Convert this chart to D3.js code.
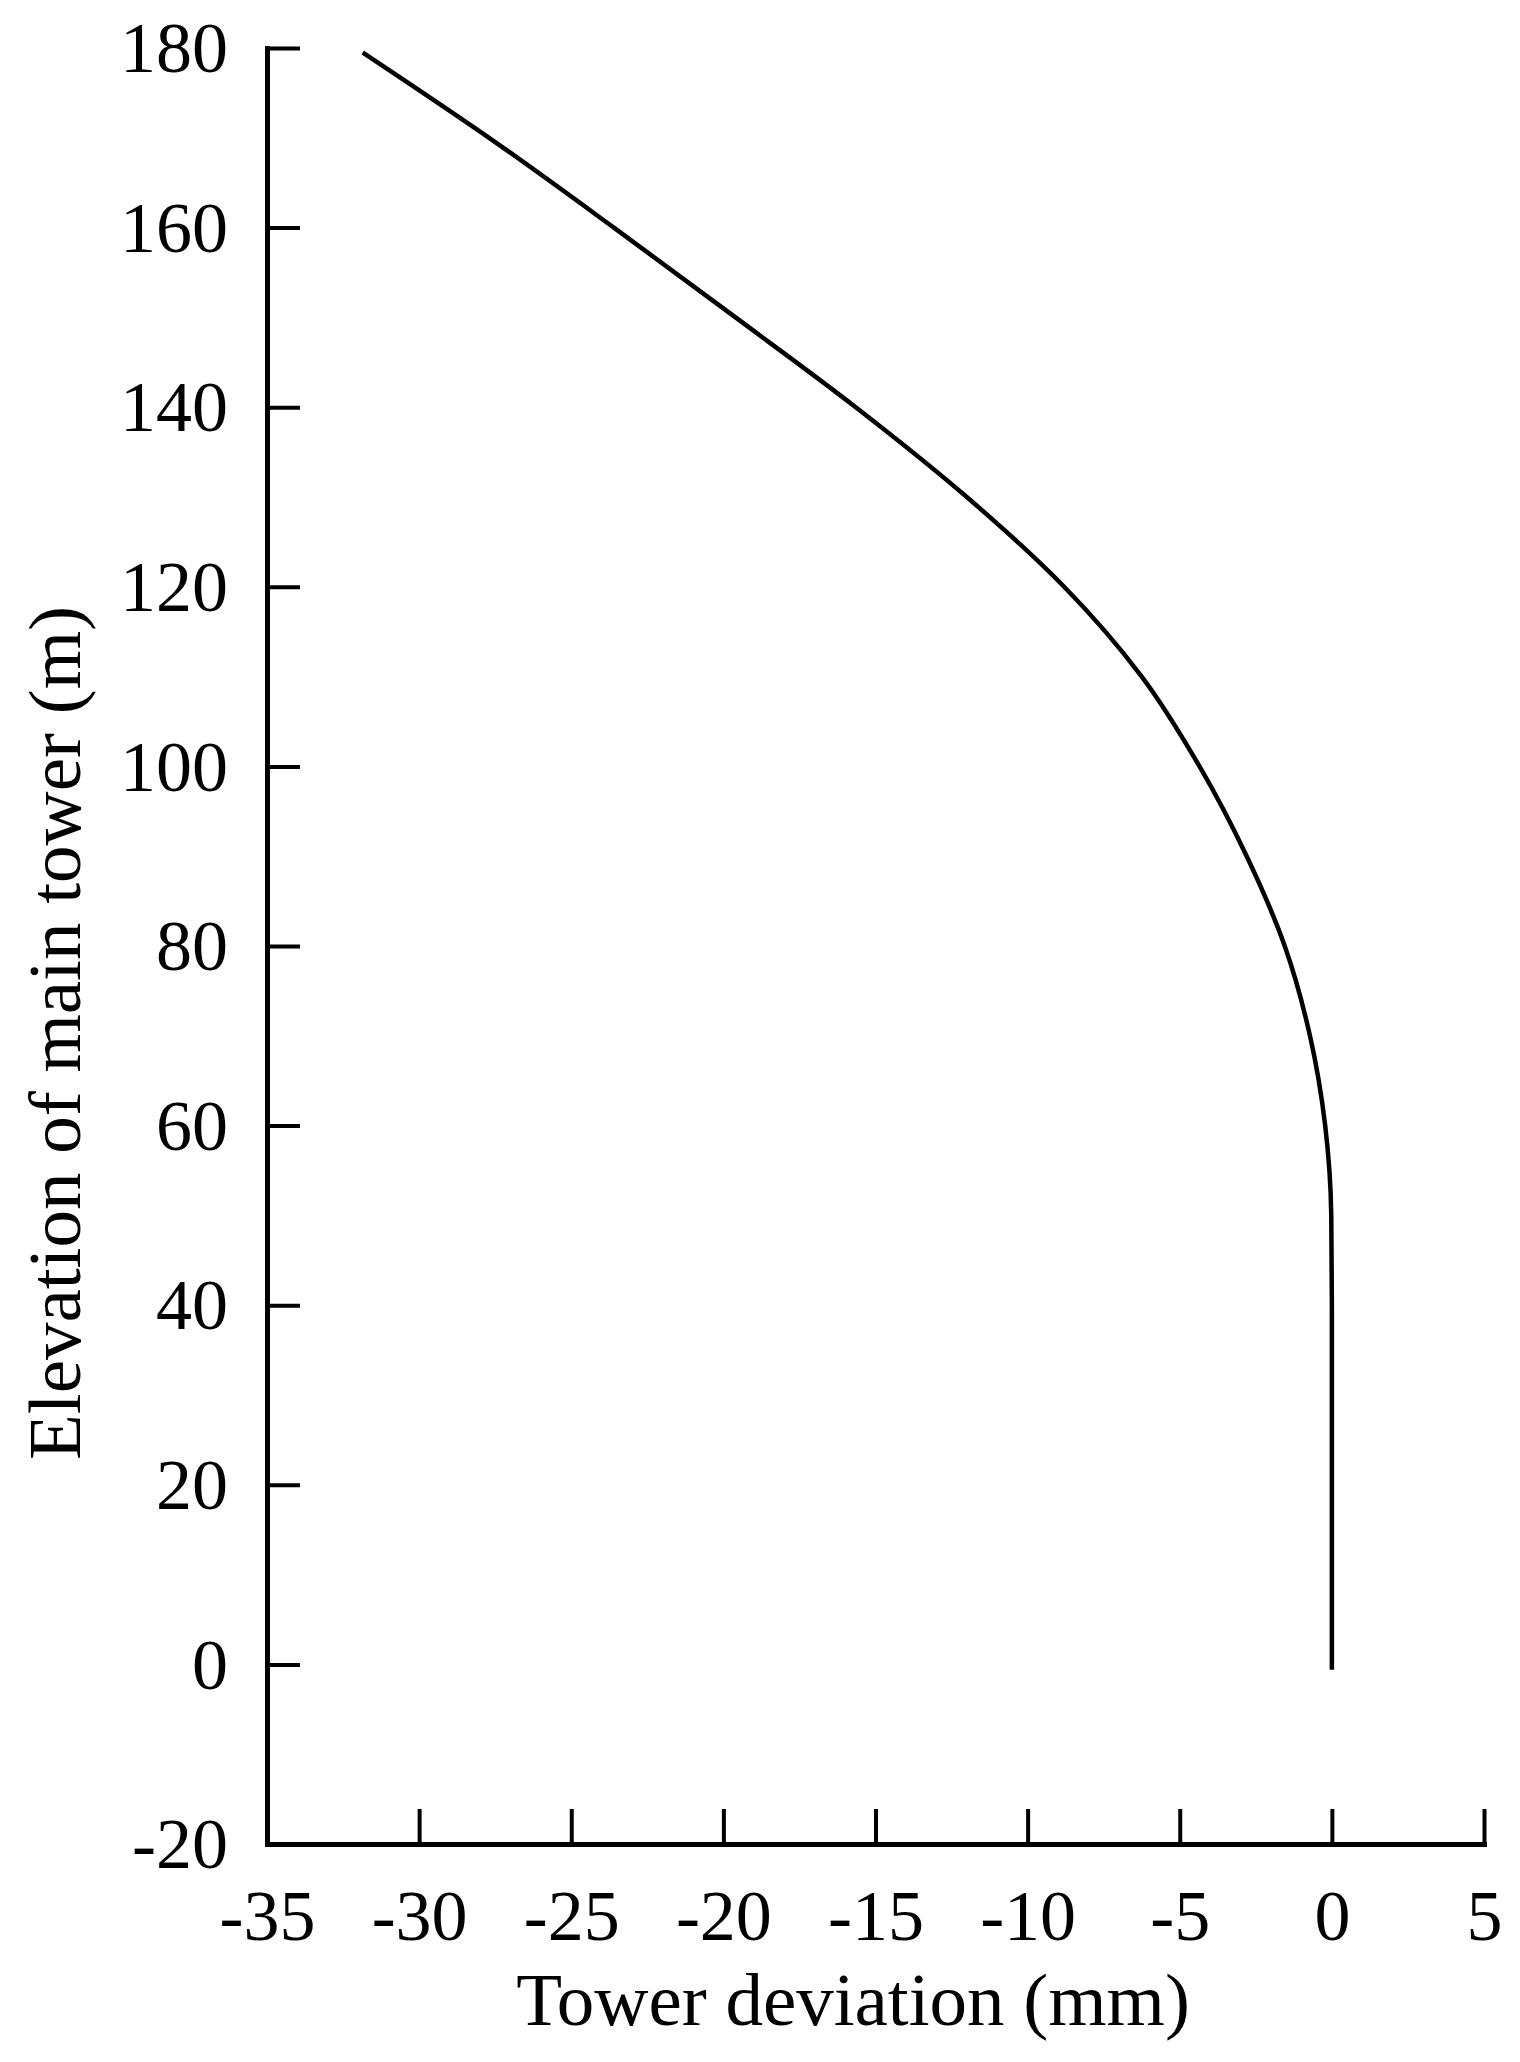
<!DOCTYPE html>
<html>
<head>
<meta charset="utf-8">
<script src="https://cdn.jsdelivr.net/npm/d3@7"></script>
<style>
  html, body { margin: 0; padding: 0; background: #fff; }
  svg { display: block; }
  text { font-family: "Liberation Serif", "Times New Roman", serif; fill: #000; }
</style>
</head>
<body>
<script>
// Data
const elevation = [-0.6, 20, 40, 50, 60, 70, 80, 90, 100, 110, 120, 130, 140, 150, 160, 170, 179.5];
const deviation = [0, 0, 0, -0.02, -0.22, -0.72, -1.55, -2.8, -4.35, -6.25, -8.8, -12.0, -15.65, -19.6, -23.6, -27.7, -31.85];
const xTicks = [-35, -30, -25, -20, -15, -10, -5, 0, 5];
const yTicks = [-20, 0, 20, 40, 60, 80, 100, 120, 140, 160, 180];
const xTitle = "Tower deviation (mm)";
const yTitle = "Elevation of main tower (m)";

const W = 1520, H = 2062;
const svg = d3.select("body").append("svg").attr("width", W).attr("height", H);

const x = d3.scaleLinear().domain([-35, 5]).range([267, 1484]);
const y = d3.scaleLinear().domain([-20, 180]).range([1844, 48]);
const fmt = d => String(d);

// X axis
const gx = svg.append("g").attr("transform", `translate(0,${y(-20)})`)
  .call(d3.axisBottom(x).tickValues(xTicks).tickFormat(fmt)
    .tickSizeInner(-35).tickSizeOuter(0).tickPadding(0));
gx.select(".domain").attr("stroke", "#000").attr("stroke-width", 5).attr("stroke-linecap", "square");
gx.selectAll(".tick line").attr("stroke", "#000").attr("stroke-width", 4);
gx.selectAll(".tick text").attr("y", 96).attr("dy", null)
  .style("font-size", "72px").attr("fill", "#000");

// Y axis
const gy = svg.append("g").attr("transform", `translate(${x(-35)},0)`)
  .call(d3.axisLeft(y).tickValues(yTicks).tickFormat(fmt)
    .tickSizeInner(-33).tickSizeOuter(0).tickPadding(0));
gy.select(".domain").attr("stroke", "#000").attr("stroke-width", 5).attr("stroke-linecap", "square");
gy.selectAll(".tick line").attr("stroke", "#000").attr("stroke-width", 4);
gy.selectAll(".tick text").attr("x", -39).attr("dy", "0.33em")
  .style("font-size", "72px").attr("fill", "#000");

// Titles
svg.append("text").attr("x", 853).attr("y", 2025).attr("text-anchor", "middle")
  .style("font-size", "75px").text(xTitle);
svg.append("text").attr("transform", `translate(80,1033) rotate(-90)`).attr("text-anchor", "middle")
  .style("font-size", "75px").text(yTitle);

// Curve
const pts = elevation.map((e, i) => [deviation[i], e]);
svg.append("path").datum(pts)
  .attr("fill", "none").attr("stroke", "#000").attr("stroke-width", 4.5)
  .attr("d", d3.line().x(d => x(d[0])).y(d => y(d[1])).curve(d3.curveMonotoneY));
</script>
</body>
</html>
